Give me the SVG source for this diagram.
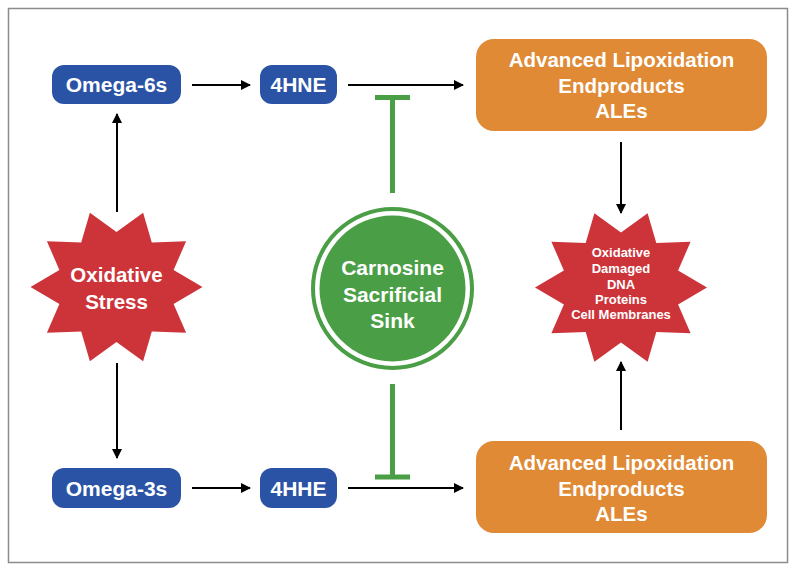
<svg xmlns="http://www.w3.org/2000/svg" width="795" height="575" viewBox="0 0 795 575">
<style>
  .lbl{font-family:"Liberation Sans",Arial,Helvetica,sans-serif;font-weight:bold;fill:#ffffff;text-anchor:middle}
  .blue{fill:#2b53a5}
  .orange{fill:#e08a36}
  .red{fill:#cc343a}
  .arr{stroke:#000;stroke-width:2;fill:none;marker-end:url(#ah)}
  .inh{stroke:#4a9e45;stroke-width:5;fill:none}
</style>
<defs>
  <marker id="ah" viewBox="0 0 10 10" refX="9" refY="5" markerWidth="5" markerHeight="5" orient="auto" markerUnits="strokeWidth">
    <path d="M0,0 L10,5 L0,10 Z" fill="#000"/>
  </marker>
  <path id="star" d="M86,0 L57.1,-17 L69.6,-45.8 L35.3,-44.5 L26.6,-74.2 L0,-55 L-26.6,-74.2 L-35.3,-44.5 L-69.6,-45.8 L-57.1,-17 L-86,0 L-57.1,17 L-69.6,45.8 L-35.3,44.5 L-26.6,74.2 L0,55 L26.6,74.2 L35.3,44.5 L69.6,45.8 L57.1,17 Z"/>
</defs>
<rect x="0" y="0" width="795" height="575" fill="#ffffff"/>
<rect x="8.5" y="8.5" width="779" height="554" fill="none" stroke="#8c8c8c" stroke-width="1.5"/>

<g id="connectors">
  <line class="arr" x1="192" y1="85" x2="250" y2="85"/>
  <line class="arr" x1="348" y1="85" x2="463" y2="85"/>
  <line class="arr" x1="192" y1="488" x2="250" y2="488"/>
  <line class="arr" x1="348" y1="488" x2="463" y2="488"/>
  <line class="arr" x1="117" y1="212" x2="117" y2="114"/>
  <line class="arr" x1="117" y1="363" x2="117" y2="458"/>
  <line class="arr" x1="621" y1="142" x2="621" y2="213"/>
  <line class="arr" x1="621" y1="430" x2="621" y2="362"/>
  <path class="inh" d="M392.5,193 V97.5 M375,97.5 H410"/>
  <path class="inh" d="M392.5,384 V477 M375,477 H410"/>
</g>

<g id="omega6">
  <rect class="blue" x="52" y="65" width="129" height="39" rx="12"/>
  <text class="lbl" x="116.5" y="92" font-size="21">Omega-6s</text>
</g>
<g id="hne">
  <rect class="blue" x="260" y="65" width="77" height="39" rx="12"/>
  <text class="lbl" x="298.5" y="92" font-size="21">4HNE</text>
</g>
<g id="omega3">
  <rect class="blue" x="52" y="468" width="129" height="40" rx="12"/>
  <text class="lbl" x="116.5" y="495.5" font-size="21">Omega-3s</text>
</g>
<g id="hhe">
  <rect class="blue" x="260" y="468" width="77" height="40" rx="12"/>
  <text class="lbl" x="298.5" y="495.5" font-size="21">4HHE</text>
</g>
<g id="ale-top">
  <rect class="orange" x="476" y="39" width="291" height="92" rx="18"/>
  <text class="lbl" font-size="20.5"><tspan x="621.5" y="67">Advanced Lipoxidation</tspan><tspan x="621.5" y="92.5">Endproducts</tspan><tspan x="621.5" y="118">ALEs</tspan></text>
</g>
<g id="ale-bottom">
  <rect class="orange" x="476" y="441" width="291" height="92" rx="18"/>
  <text class="lbl" font-size="20.5"><tspan x="621.5" y="470">Advanced Lipoxidation</tspan><tspan x="621.5" y="495.5">Endproducts</tspan><tspan x="621.5" y="521">ALEs</tspan></text>
</g>
<g id="oxidative-stress">
  <use href="#star" class="red" transform="translate(116.5,287)"/>
  <text class="lbl" font-size="20.5"><tspan x="116.5" y="282">Oxidative</tspan><tspan x="116.5" y="309">Stress</tspan></text>
</g>
<g id="damage">
  <use href="#star" class="red" transform="translate(621,287.5)"/>
  <text class="lbl" font-size="13"><tspan x="621" y="257">Oxidative</tspan><tspan x="621" y="272.5">Damaged</tspan><tspan x="621" y="288.5">DNA</tspan><tspan x="621" y="303.5">Proteins</tspan><tspan x="621" y="319">Cell Membranes</tspan></text>
</g>
<g id="carnosine">
  <circle cx="392.5" cy="288.5" r="79.5" fill="none" stroke="#4a9e45" stroke-width="4"/>
  <circle cx="392.5" cy="288.5" r="73" fill="#4a9e45"/>
  <text class="lbl" font-size="21"><tspan x="392.5" y="275">Carnosine</tspan><tspan x="392.5" y="301.5">Sacrificial</tspan><tspan x="392.5" y="328">Sink</tspan></text>
</g>
</svg>
